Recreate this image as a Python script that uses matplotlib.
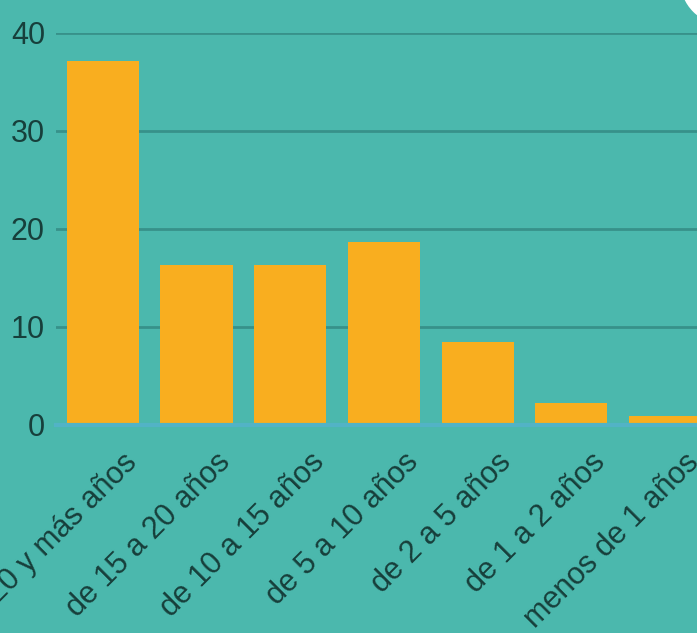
import matplotlib
matplotlib.use("Agg")
import matplotlib.pyplot as plt
import matplotlib.transforms as mtrans
from matplotlib.patches import Circle

categories = ["20 y más años", "de 15 a 20 años", "de 10 a 15 años",
              "de 5 a 10 años", "de 2 a 5 años", "de 1 a 2 años",
              "menos de 1 años"]
values = [37.1, 16.3, 16.3, 18.6, 8.5, 2.2, 0.9]
yticks = [0, 10, 20, 30, 40]

BG = "#4bb8ad"
BAR = "#f9ae1f"
GRID = "#37918a"
TEXT = "#173f3b"
AXIS = "#52b3c6"

plt.rcParams["font.family"] = ["Liberation Sans", "DejaVu Sans"]

W, H = 697, 633
fig = plt.figure(figsize=(W / 100, H / 100), dpi=100, facecolor=BG)
slot = 93.7
ax = fig.add_axes([56 / W, (H - 425) / H, 7 * slot / W, (425 - 32.5) / H])
ax.set_facecolor(BG)

xpos = list(range(len(categories)))
ax.bar(xpos, values, width=0.77, color=BAR, zorder=3)
ax.set_xlim(-0.5, len(categories) - 0.5)
ax.set_ylim(0, 40)
ax.set_yticks(yticks)
ax.set_yticklabels([str(v) for v in yticks])
ax.yaxis.grid(True, color=GRID, linewidth=2)
ax.set_axisbelow(True)
for s in ["top", "right", "left"]:
    ax.spines[s].set_visible(False)
ax.spines["bottom"].set_color(AXIS)
ax.spines["bottom"].set_linewidth(3)
ax.spines["bottom"].set_zorder(4)

ax.tick_params(axis="y", length=0, pad=8, labelsize=22, labelcolor=TEXT)
ax.tick_params(axis="x", length=0, pad=16, labelsize=22, labelcolor=TEXT)
ax.set_xticks(xpos)
ax.set_xticklabels(categories, rotation=45, ha="right", va="top",
                   rotation_mode="anchor")
offset = mtrans.ScaledTranslation(0.19, 0, fig.dpi_scale_trans)
for lab in ax.get_xticklabels():
    lab.set_transform(lab.get_transform() + offset)

# decorative white circle at the top-right corner
circ = Circle((725, H + 20), 45, transform=None, facecolor="white",
              edgecolor="none", zorder=10)
fig.patches.append(circ)

fig.savefig("out.png", dpi=100, facecolor=BG)
